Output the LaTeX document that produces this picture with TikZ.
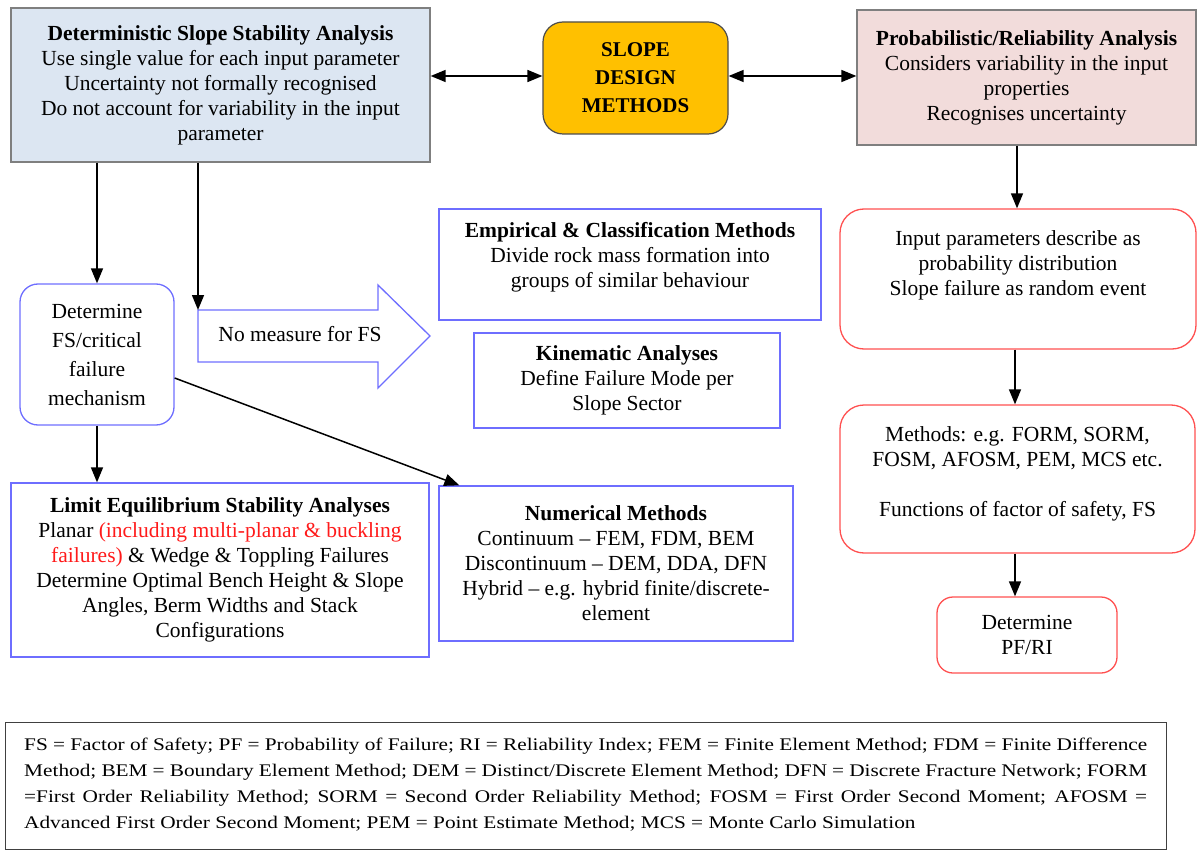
\documentclass[tikz,border=0pt]{standalone}
\usepackage{fontspec}
\setmainfont{Liberation Serif}
\newfontfamily\legendfont{Liberation Serif}[FakeStretch=1.2]
\usetikzlibrary{arrows.meta}
\definecolor{detfill}{HTML}{DCE6F2}
\definecolor{probfill}{HTML}{F2DCDB}
\definecolor{gold}{HTML}{FFC000}
\definecolor{boxgray}{HTML}{7F7F7F}
\definecolor{bblue}{HTML}{6E6EFF}
\definecolor{rred}{HTML}{FF5050}
\definecolor{hired}{HTML}{FF1A1A}
\begin{document}
\begin{tikzpicture}[x=1pt,y=-1pt,
  every node/.style={font=\fontsize{21.5}{25}\selectfont, align=center, inner sep=0pt},
  shadebox/.style={draw=boxgray, line width=1.3pt},
  bluebox/.style={draw=bblue, line width=1.3pt},
  redbox/.style={draw=rred, line width=1.3pt, rounded corners=24pt},
  link/.style={line width=1.5pt, -{Triangle[length=15pt,width=12pt]}},
  twoway/.style={line width=1.5pt, {Triangle[length=15pt,width=12pt]}-{Triangle[length=15pt,width=12pt]}}
]
\useasboundingbox (0,0) rectangle (1198,850);

% --- top row: the two approaches and the central node
\node[shadebox, fill=detfill, minimum width=419pt, minimum height=154pt] (det) at (220.5,85)
  {\textbf{Deterministic Slope Stability Analysis}\\Use single value for each input parameter\\Uncertainty not formally recognised\\Do not account for variability in the input\\parameter};
\node[draw=black!70, line width=1.2pt, fill=gold, rounded corners=20pt, minimum width=185pt, minimum height=112pt,
  font=\fontsize{21}{28}\selectfont\bfseries] (slope) at (635.5,78) {SLOPE\\DESIGN\\METHODS};
\node[shadebox, fill=probfill, minimum width=339pt, minimum height=135pt] (prob) at (1026.5,77.5)
  {\textbf{Probabilistic/Reliability Analysis}\\Considers variability in the input\\properties\\Recognises uncertainty};

\draw[twoway] (det.east |- 0,76) -- (slope.west |- 0,76);
\draw[twoway] (slope.east |- 0,76) -- (prob.west |- 0,76);

% --- deterministic branch
\node[bluebox, rounded corners=18pt, minimum width=154pt, minimum height=141pt,
  font=\fontsize{21.5}{29}\selectfont] (detfs) at (97,354.5) {Determine\\FS/critical\\failure\\mechanism};

\draw[bluebox, line join=miter] (198,310) -- (378,310) -- (378,285) -- (430,336) -- (378,388) -- (378,362) -- (198,362) -- cycle;
\coordinate (noTop) at (198,310);
\node (noT) at (300,334) {No measure for FS};

\node[bluebox, minimum width=382pt, minimum height=111pt] (emp) at (630,264.5) {};
\node (empT) at (630,257) {\textbf{Empirical \& Classification Methods}\\Divide rock mass formation into\\groups of similar behaviour};

\node[bluebox, minimum width=306pt, minimum height=95pt] (kin) at (627,380.5)
  {\textbf{Kinematic Analyses}\\Define Failure Mode per\\Slope Sector};

\node[bluebox, minimum width=418pt, minimum height=174pt] (limit) at (220,570)
  {\textbf{Limit Equilibrium Stability Analyses}\\Planar \textcolor{hired}{(including multi-planar \& buckling}\\\textcolor{hired}{failures)} \& Wedge \& Toppling Failures\\Determine Optimal Bench Height \& Slope\\Angles, Berm Widths and Stack\\Configurations};

\node[bluebox, minimum width=354pt, minimum height=155pt] (num) at (616,563.5)
  {\textbf{Numerical Methods}\\Continuum -- FEM, FDM, BEM\\Discontinuum -- DEM, DDA, DFN\\Hybrid -- e.g. hybrid finite/discrete-\\element};

\draw[link] (det.south -| detfs) -- (detfs.north);
\draw[link] (det.south -| noTop) -- (noTop);
\draw[link] (detfs.south) -- (limit.north -| detfs);
\draw[link] ([yshift=-23.5pt]detfs.east) -- ([xshift=21pt]num.north west);

% --- probabilistic branch
\node[redbox, minimum width=356pt, minimum height=140pt] (inp) at (1018,279) {};
\node (inpT) at (1018,265) {Input parameters describe as\\probability distribution\\Slope failure as random event};

\node[redbox, minimum width=355pt, minimum height=148pt] (meth) at (1017.5,479) {};
\node (methT) at (1017.5,473.5) {Methods: e.g. FORM, SORM,\\FOSM, AFOSM, PEM, MCS etc.\\[25pt]Functions of factor of safety, FS};

\node[redbox, rounded corners=16pt, minimum width=180pt, minimum height=76pt] (pf) at (1027,635)
  {Determine\\PF/RI};

\draw[link] (prob.south -| 1017,0) -- (inp.north -| 1017,0);
\draw[link] (inp.south -| 1015,0) -- (meth.north -| 1015,0);
\draw[link] (meth.south -| 1015,0) -- (pf.north -| 1015,0);

% --- abbreviations
\node[draw=black!75, line width=1pt, minimum width=1161pt, minimum height=127pt] (legend) at (585.5,785.5) {};
\node[anchor=north west, text width=1123pt, align=justify, font=\legendfont\fontsize{17.75}{26}\selectfont] (legendT) at (24,738)
  {FS = Factor of Safety; PF = Probability of Failure; RI = Reliability Index; FEM = Finite Element Method; FDM = Finite Difference\linebreak
  Method; BEM = Boundary Element Method; DEM = Distinct/Discrete Element Method; DFN = Discrete Fracture Network; FORM\linebreak
  =First Order Reliability Method; SORM = Second Order Reliability Method; FOSM = First Order Second Moment; AFOSM =\linebreak
  Advanced First Order Second Moment; PEM = Point Estimate Method; MCS = Monte Carlo Simulation};
\end{tikzpicture}
\end{document}
